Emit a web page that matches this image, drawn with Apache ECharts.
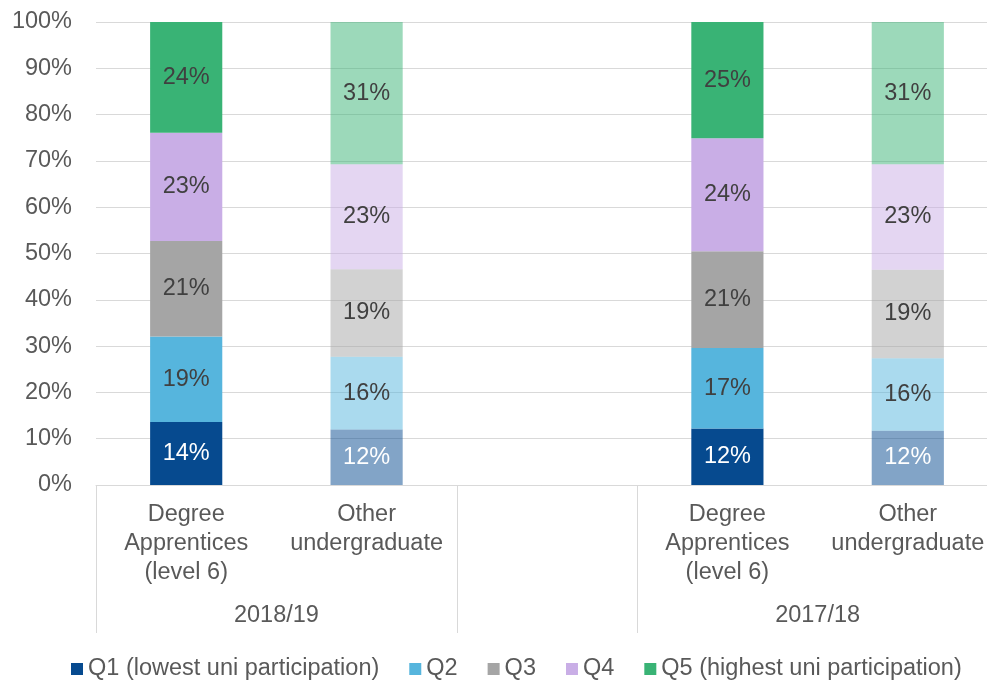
<!DOCTYPE html>
<html>
<head>
<meta charset="utf-8">
<script src="https://cdn.jsdelivr.net/npm/echarts@6/dist/echarts.min.js"></script>
<style>
html,body{margin:0;padding:0;background:#fff;}
#chart{width:987px;height:684px;}
</style>
</head>
<body>
<div id="chart"></div>
<script>
// ---- Data ----
const categories = ['Degree\nApprentices\n(level 6)', 'Other\nundergraduate', '', 'Degree\nApprentices\n(level 6)', 'Other\nundergraduate'];
const groupLabels = ['2018/19', '', '2017/18'];
const groupSizes = [2, 1, 2];
const seriesNames = ['Q1 (lowest uni participation)', 'Q2', 'Q3', 'Q4', 'Q5 (highest uni participation)'];
const q1 = [13.6, 12.0, null, 12.2, 11.7];
const q2 = [18.5, 15.7, null, 17.4, 15.7];
const q3 = [20.6, 18.9, null, 20.9, 19.1];
const q4 = [23.4, 22.7, null, 24.4, 22.8];
const q5 = [23.9, 30.7, null, 25.1, 30.7];
const yTicks = [0, 10, 20, 30, 40, 50, 60, 70, 80, 90, 100];
const lightCategories = [1, 4]; // "Other undergraduate" bars drawn in lighter tone

// ---- Styles ----
const FONT = 'Liberation Sans';
const FS = 23.5;
const baseColors = ['#064a8f', '#56b5dd', '#a5a5a5', '#c9aee6', '#39b375'];
const lightColors = ['rgba(6,74,143,0.5)', 'rgba(86,181,221,0.5)', 'rgba(165,165,165,0.5)', 'rgba(201,174,230,0.5)', 'rgba(57,179,117,0.5)'];
const labelColors = ['#ffffff', '#404040', '#404040', '#404040', '#404040'];
const axisTextColor = '#595959';
const lineColor = '#d9d9d9';

const allValues = [q1, q2, q3, q4, q5];

// group boundaries & centers (in category units)
const bounds = [0];
const centers = [];
groupSizes.forEach((s, i) => { centers.push(bounds[i] + s / 2); bounds.push(bounds[i] + s); });
const total = bounds[bounds.length - 1];

const series = allValues.map((vals, si) => ({
  name: seriesNames[si],
  type: 'bar',
  stack: 'total',
  barWidth: '40%',
  itemStyle: { color: baseColors[si] },
  label: {
    show: true,
    position: 'inside',
    color: labelColors[si],
    fontFamily: FONT,
    fontSize: FS,
    formatter: p => Math.round(p.value) + '%'
  },
  data: vals.map((v, ci) => ({
    value: v,
    itemStyle: lightCategories.includes(ci) ? { color: lightColors[si] } : undefined
  }))
}));

const chart = echarts.init(document.getElementById('chart'));
chart.setOption({
  animation: false,
  textStyle: { fontFamily: FONT },
  grid: { left: 96, top: 22, width: 902, bottom: 199, containLabel: false, outerBoundsMode: 'none' },
  legend: {
    data: seriesNames,
    top: 652,
    left: 66,
    icon: 'rect',
    itemWidth: 12,
    itemHeight: 12,
    itemGap: 30,
    textStyle: { fontFamily: FONT, fontSize: FS, color: axisTextColor, padding: [0, 0, 0, 0] }
  },
  xAxis: [
    {
      type: 'category',
      data: categories,
      axisLine: { show: true, lineStyle: { color: lineColor, width: 1 } },
      axisTick: { show: false },
      axisLabel: {
        interval: 0,
        color: axisTextColor,
        fontFamily: FONT,
        fontSize: FS,
        lineHeight: 29,
        margin: 15
      },
      splitLine: { show: false }
    },
    {
      type: 'value',
      min: 0,
      max: total,
      position: 'bottom',
      axisLine: { show: false },
      splitLine: { show: false },
      axisTick: {
        show: true,
        customValues: bounds,
        length: 148,
        lineStyle: { color: lineColor, width: 1 }
      },
      axisLabel: {
        customValues: centers,
        formatter: v => { const i = centers.indexOf(v); return i >= 0 ? groupLabels[i] : ''; },
        color: axisTextColor,
        fontFamily: FONT,
        fontSize: FS,
        lineHeight: 29,
        margin: 116
      }
    }
  ],
  yAxis: {
    type: 'value',
    min: yTicks[0],
    max: yTicks[yTicks.length - 1],
    interval: yTicks[1] - yTicks[0],
    axisLine: { show: false },
    axisTick: { show: false },
    splitLine: { show: true, lineStyle: { color: lineColor, width: 1 } },
    axisLabel: {
      formatter: '{value}%',
      color: axisTextColor,
      fontFamily: FONT,
      fontSize: FS,
      margin: 24
    }
  },
  series: series
});
</script>
</body>
</html>
